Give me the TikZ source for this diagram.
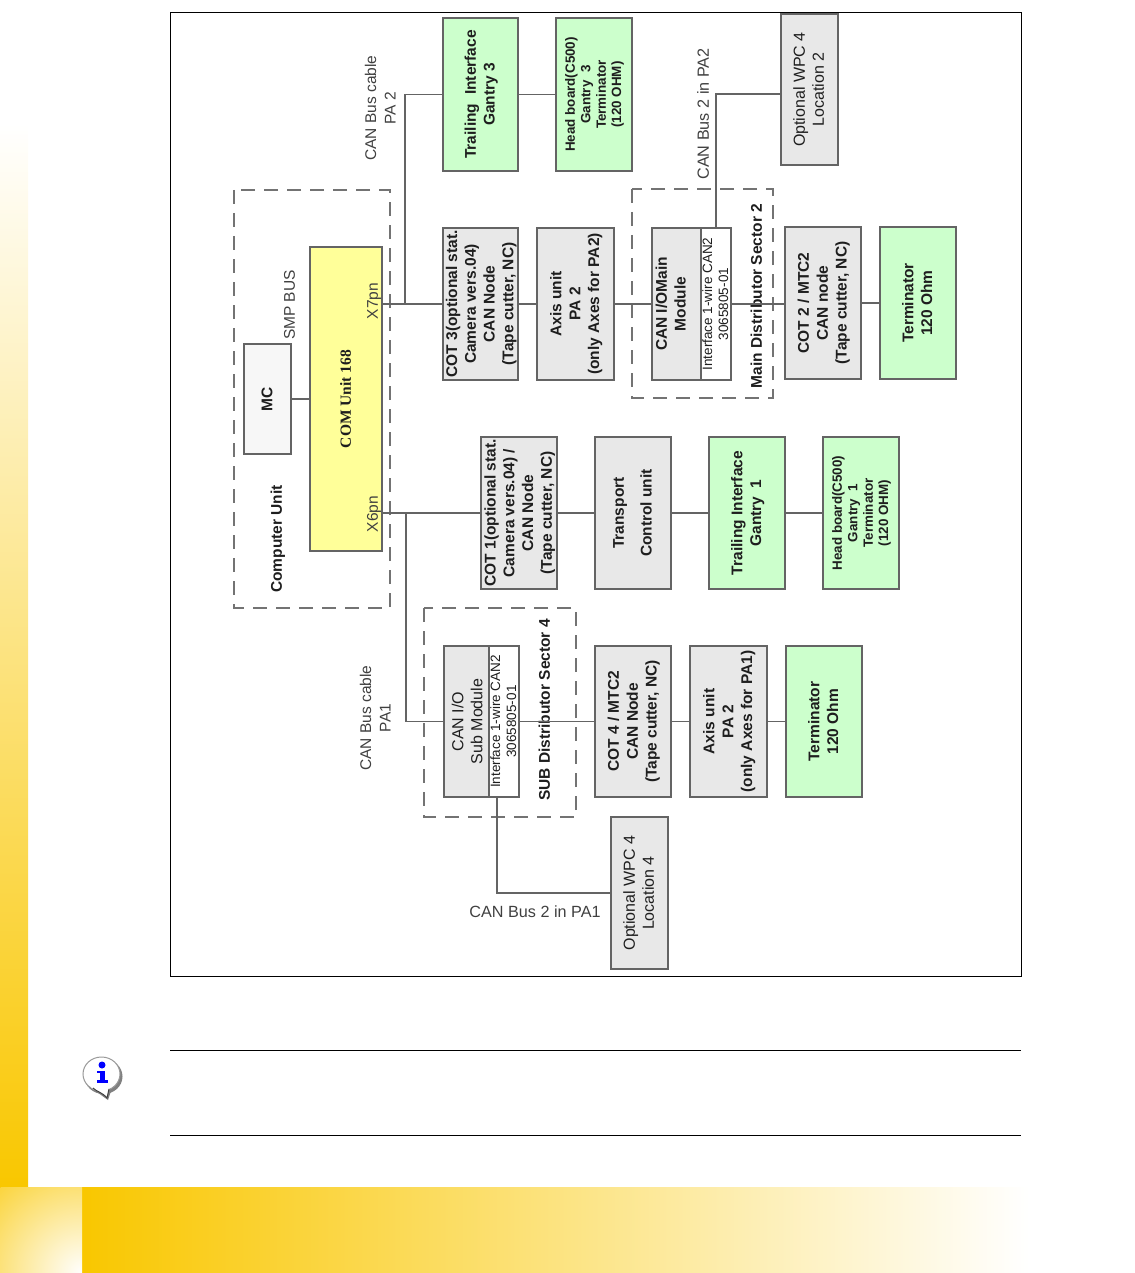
\documentclass[tikz,border=0pt]{standalone}
\usepackage{fontspec}
\setmainfont{Liberation Sans}
\newfontfamily\comfont{Liberation Serif}
\usepackage{graphicx}
\usetikzlibrary{positioning}
\definecolor{barGold}{RGB}{249,199,0}
\definecolor{boxGrey}{RGB}{232,232,232}
\definecolor{boxGreen}{RGB}{204,255,204}
\definecolor{boxYellow}{RGB}{255,255,153}
\definecolor{boxPale}{RGB}{247,247,247}
\definecolor{lineGrey}{RGB}{100,100,100}
\definecolor{textDark}{RGB}{30,30,30}
\newcommand{\vtext}[1]{\makebox[0pt]{\hspace*{2pt}\rotatebox{90}{\begin{tabular}{@{}c@{}}#1\end{tabular}}}}
\tikzset{
  unit/.style={draw=lineGrey, line width=1.1pt, inner sep=0pt, outer sep=0pt, text=textDark, align=center,
    font=\fontsize{15.5}{18.8}\selectfont\bfseries},
  greybox/.style={unit, fill=boxGrey},
  greenbox/.style={unit, fill=boxGreen},
  whitebox/.style={unit, fill=white, font=\fontsize{13.5}{16}\selectfont},
  small/.style={font=\fontsize{13.4}{15.4}\selectfont\bfseries},
  plain/.style={font=\fontsize{16}{19}\selectfont},
  caption/.style={inner sep=0pt, text=textDark!85!white, font=\fontsize{15.5}{19.5}\selectfont},
  buscap/.style={caption, font=\fontsize{16.2}{19.5}\selectfont},
  boldcap/.style={caption, text=textDark, font=\fontsize{15.5}{19}\selectfont\bfseries},
  wire/.style={draw=lineGrey, line width=1.1pt},
  sector/.style={draw=black!55, line width=1.2pt, dash pattern=on 14pt off 9pt}
}
\begin{document}
\begin{tikzpicture}[x=1pt, y=-1pt]
    \useasboundingbox (0,0) rectangle (1134,1273);
    % Page decoration
    \shade[top color=white, bottom color=barGold] (0,124) rectangle (28,1187);
    \shade[left color=barGold, right color=white] (82,1187) rectangle (1029,1273);
    \begin{scope}
      \clip (0,1187) rectangle (82,1273);
      \shade[inner color=white, outer color=barGold!75!white] (82,1273) circle (118);
    \end{scope}
    \draw[black, line width=0.8pt] (170,12) rectangle (1021,976);
    \draw[black, line width=0.8pt] (170,1050) -- (1021,1050);
    \draw[black, line width=0.8pt] (170,1135) -- (1021,1135);
    % Info bubble
    \fill[black!50] (103.5,1076.5) ellipse (19 and 17.5);
    \fill[black!50] (94,1090) -- (108,1100) -- (112,1088) -- cycle;
    \fill[white, draw=black!40, line width=1pt] (101.5,1074) ellipse (18.5 and 17);
    \fill[white] (91,1087) .. controls (96,1092) and (102,1092) .. (107,1098) -- (109,1088) -- cycle;
    \draw[black!75, line width=1pt] (93,1088) .. controls (97,1092) and (102,1092) .. (107,1098) -- (109,1089);
    \fill[blue] (102,1065) circle (3.5);
    \fill[blue] (97,1070.5) rectangle (105,1072.5);
    \fill[blue] (100,1070.5) rectangle (105,1081);
    \fill[blue] (97,1080) rectangle (108,1082.5);
    % Sector frames
    \draw[sector] (234,190) rectangle (390,608);
    \draw[sector] (632,189) rectangle (773,398);
    \draw[sector] (424,608) rectangle (576,817);
    % Computer unit
    \node[unit, fill=boxPale, minimum width=47, minimum height=110] (mc) at (267.5,399) {\vtext{MC}};
    \node[unit, fill=boxYellow, minimum width=72, minimum height=304] (com) at (346,399)
      {\vtext{\comfont\bfseries COM Unit 168}};
    % Upper row
    \node[greybox, minimum width=75, minimum height=152] (cotthree) at (480.5,304)
      {\vtext{COT 3(optional stat.\\Camera vers.04)\\CAN Node\\(Tape cutter, NC)}};
    \node[greybox, minimum width=77, minimum height=152] (axistwo) at (575.5,304)
      {\vtext{Axis unit\\PA 2\\(only Axes for PA2)}};
    \node[greybox, minimum width=49, minimum height=152] (canmain) at (676.5,304)
      {\makebox[0pt]{\vtext{CAN I/OMain\\Module}\hspace*{10pt}}};
    \node[whitebox, minimum width=30, minimum height=152] (ifmain) at (716,304)
      {\vtext{Interface 1-wire CAN2\\3065805-01}};
    \node[greybox, minimum width=76, minimum height=152] (cottwo) at (823,303)
      {\vtext{COT 2 / MTC2\\CAN node\\(Tape cutter, NC)}};
    \node[greenbox, minimum width=76, minimum height=152] (termtwo) at (918,303)
      {\vtext{Terminator\\120 Ohm}};
    % Gantry 3 and WPC
    \node[greenbox, minimum width=75, minimum height=153] (trailthree) at (480.5,94.5)
      {\vtext{Trailing~ Interface\\Gantry 3}};
    \node[greenbox, small, minimum width=76, minimum height=153] (headthree) at (594,94.5)
      {\vtext{Head board(C500)\\Gantry~ 3\\Terminator\\(120 OHM)}};
    \node[greybox, plain, minimum width=57, minimum height=151] (wpctwo) at (809.5,89.5)
      {\vtext{\mdseries Optional WPC 4\\\mdseries Location 2}};
    % Middle row
    \node[greybox, minimum width=76, minimum height=152] (cotone) at (519,513)
      {\vtext{COT 1(optional stat.\\Camera vers.04) /\\CAN Node\\(Tape cutter, NC)}};
    \node[greybox, minimum width=76, minimum height=152] (transport) at (633,513)
      {\vtext{Transport\\[9pt]Control unit}};
    \node[greenbox, minimum width=76, minimum height=152] (trailone) at (747,513)
      {\vtext{Trailing Interface\\Gantry~ 1}};
    \node[greenbox, small, minimum width=76, minimum height=152] (headone) at (861,513)
      {\vtext{Head board(C500)\\Gantry~ 1\\Terminator\\(120 OHM)}};
    % Lower row
    \node[greybox, plain, minimum width=45, minimum height=151] (cansub) at (466.5,721.5)
      {\hspace*{3pt}\vtext{\mdseries CAN I/O\\\mdseries Sub Module}};
    \node[whitebox, minimum width=30, minimum height=151] (ifsub) at (504,721.5)
      {\vtext{Interface 1-wire CAN2\\3065805-01}};
    \node[greybox, minimum width=76, minimum height=151] (cotfour) at (633,721.5)
      {\vtext{COT 4 / MTC2\\CAN Node\\(Tape cutter, NC)}};
    \node[greybox, minimum width=77, minimum height=151] (axisone) at (728.5,721.5)
      {\vtext{Axis unit\\PA 2\\(only Axes for PA1)}};
    \node[greenbox, minimum width=76, minimum height=151] (termone) at (824,721.5)
      {\vtext{Terminator\\120 Ohm}};
    \node[greybox, plain, minimum width=57, minimum height=152] (wpcfour) at (639.5,893)
      {\vtext{\mdseries Optional WPC 4\\\mdseries Location 4}};
    % Free labels
    \node[caption] (smpbus) at (290,305) {\vtext{SMP BUS}};
    \node[caption] (xseven) at (373,301) {\vtext{X7pn}};
    \node[caption] (xsix) at (373,514) {\vtext{X6pn}};
    \node[boldcap] (compunit) at (277,539) {\vtext{Computer Unit}};
    \node[boldcap] (mainsector) at (757,296) {\vtext{Main Distributor Sector 2}};
    \node[boldcap] (subsector) at (545,710) {\vtext{SUB Distributor Sector 4}};
    \node[caption] (cabletwo) at (381,108) {\vtext{CAN Bus cable\\PA 2}};
    \node[caption] (cableone) at (376,718) {\vtext{CAN Bus cable\\PA1}};
    \node[buscap] (bustwo) at (704,114) {\vtext{CAN Bus 2 in PA2}};
    \node[buscap] (busone) at (535,912) {CAN Bus 2 in PA1};
    % Junctions
    \coordinate (jtop) at (405,304);
    \coordinate (jbot) at (406,513);
    \coordinate (tapmain) at (716,94);
    % Connectors
    \draw[wire] (mc.east) -- (com.west |- mc.east);
    \draw[wire] (com.east |- cotthree.west) -- (cotthree.west);
    \draw[wire] (jtop) |- (trailthree.west);
    \draw[wire] (trailthree.east) -- (headthree.west);
    \draw[wire] (cotthree.east) -- (axistwo.west);
    \draw[wire] (axistwo.east) -- (canmain.west);
    \draw[wire] (ifmain.east) -- (cottwo.west |- ifmain.east);
    \draw[wire] (cottwo.east) -- (termtwo.west);
    \draw[wire] (ifmain.north) -- (tapmain) -- (tapmain -| wpctwo.west);
    \draw[wire] (com.east |- cotone.west) -- (cotone.west);
    \draw[wire] (jbot) |- (cansub.west);
    \draw[wire] (cotone.east) -- (transport.west);
    \draw[wire] (transport.east) -- (trailone.west);
    \draw[wire] (trailone.east) -- (headone.west);
    \draw[wire] (ifsub.east) -- (cotfour.west);
    \draw[wire] (cotfour.east) -- (axisone.west);
    \draw[wire] (axisone.east) -- (termone.west);
    \draw[wire] ([xshift=-7pt]ifsub.south) |- (wpcfour.west);
\end{tikzpicture}
\end{document}
